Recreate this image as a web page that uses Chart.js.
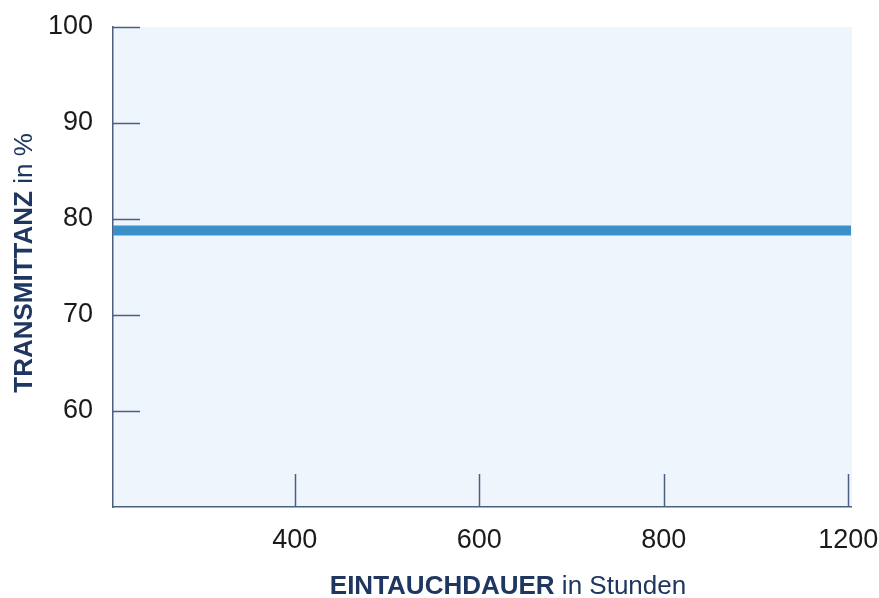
<!DOCTYPE html>
<html>
<head>
<meta charset="utf-8">
<script src="https://cdn.jsdelivr.net/npm/chart.js@4"></script>
<style>
  html, body { margin: 0; padding: 0; background: #fff; }
  #wrap { width: 879px; height: 598px; }
</style>
</head>
<body>
<div id="wrap"><canvas id="chart" width="879" height="598"></canvas></div>
<script>
// --- DONNEES ---
const xRange = [203, 1003];
const xTickValues = [400, 600, 800, 1000];
const xTickLabels = ['400', '600', '800', '1200'];
const yTickValues = [60, 70, 80, 90, 100];
const lineX = [203, 1003];
const lineY = [78.8, 78.8];

const AXIS_COLOR = '#4b5f7e';
const TITLE_COLOR = '#1f3760';
const FONT = '"Liberation Sans", Arial, sans-serif';

// fond de la zone de tracé
const bgPlugin = {
    id: 'bg',
    beforeDraw(chart) {
        const { ctx, chartArea: a } = chart;
        ctx.save();
        ctx.fillStyle = '#eef5fd';
        ctx.fillRect(a.left, a.top, a.right - a.left + 1, a.bottom - a.top);
        ctx.restore();
    }
};

// graduations vers l'intérieur + titres d'axes (gras + normal)
const axisPlugin = {
    id: 'axisDeco',
    afterDraw(chart) {
        const { ctx, chartArea: a, scales } = chart;
        ctx.save();
        ctx.strokeStyle = AXIS_COLOR;
        ctx.lineWidth = 1.5;
        yTickValues.forEach(v => {
            const y = Math.round(scales.y.getPixelForValue(v)) + 0.5;
            ctx.beginPath();
            ctx.moveTo(a.left, y);
            ctx.lineTo(a.left + 27, y);
            ctx.stroke();
        });
        xTickValues.forEach(v => {
            const x = Math.round(scales.x.getPixelForValue(v)) + 0.5;
            ctx.beginPath();
            ctx.moveTo(x, a.bottom);
            ctx.lineTo(x, a.bottom - 33);
            ctx.stroke();
        });

        ctx.fillStyle = TITLE_COLOR;
        ctx.textBaseline = 'alphabetic';
        drawTitle(ctx, 'EINTAUCHDAUER', ' in Stunden', 508, 594, 0);
        drawTitle(ctx, 'TRANSMITTANZ', ' in %', 32, 263, -Math.PI / 2);
        ctx.restore();
    }
};

function drawTitle(ctx, boldPart, normalPart, cx, baseline, angle) {
    const size = 26;
    ctx.font = `bold ${size}px ${FONT}`;
    const w1 = ctx.measureText(boldPart).width;
    ctx.font = `${size}px ${FONT}`;
    const w2 = ctx.measureText(normalPart).width;
    ctx.save();
    ctx.translate(cx, baseline);
    ctx.rotate(angle);
    ctx.textAlign = 'left';
    const start = -(w1 + w2) / 2;
    ctx.font = `bold ${size}px ${FONT}`;
    ctx.fillText(boldPart, start, 0);
    ctx.font = `${size}px ${FONT}`;
    ctx.fillText(normalPart, start + w1, 0);
    ctx.restore();
}

new Chart(document.getElementById('chart'), {
    type: 'line',
    data: {
        datasets: [{
            data: lineX.map((x, i) => ({ x: x, y: lineY[i] })),
            borderColor: '#3b90c8',
            borderWidth: 10,
            pointRadius: 0,
            fill: false
        }]
    },
    options: {
        responsive: false,
        animation: false,
        layout: { padding: { left: 0, top: 27, right: 28, bottom: 0 } },
        plugins: { legend: { display: false }, tooltip: { enabled: false } },
        scales: {
            x: {
                type: 'linear',
                min: xRange[0],
                max: xRange[1],
                afterBuildTicks: s => { s.ticks = xTickValues.map(v => ({ value: v })); },
                afterFit: s => { s.height = 91; s.paddingLeft = 0; s.paddingRight = 0; },
                grid: { display: false },
                border: { display: true, color: AXIS_COLOR, width: 1.5 },
                ticks: {
                    padding: 9,
                    color: '#1a1a1a',
                    font: { family: FONT, size: 27 },
                    maxRotation: 0,
                    autoSkip: false,
                    callback: (v) => {
                        const i = xTickValues.indexOf(v);
                        return i >= 0 ? xTickLabels[i] : '';
                    }
                }
            },
            y: {
                min: 50,
                max: 100,
                afterBuildTicks: s => { s.ticks = yTickValues.map(v => ({ value: v })); },
                afterFit: s => { s.width = 113; s.paddingTop = 0; s.paddingBottom = 0; },
                grid: { display: false },
                border: { display: true, color: AXIS_COLOR, width: 1.5 },
                ticks: {
                    padding: 12,
                    color: '#1a1a1a',
                    font: { family: FONT, size: 27 },
                    autoSkip: false
                }
            }
        }
    },
    plugins: [bgPlugin, axisPlugin]
});
</script>
</body>
</html>
